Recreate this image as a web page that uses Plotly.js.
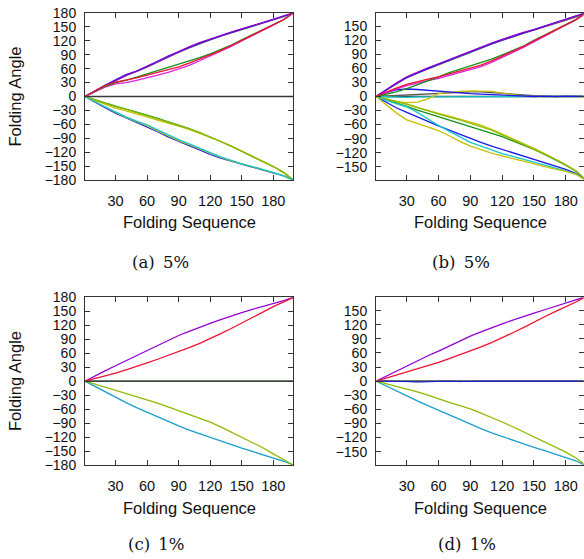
<!DOCTYPE html>
<html>
<head>
<meta charset="utf-8">
<script src="https://cdn.plot.ly/plotly-3.0.1.min.js"></script>
<style>html,body{margin:0;padding:0;background:#fff;}#chart{width:584px;height:559px;}</style>
</head>
<body>
<div id="chart"></div>
<script>
// Folding sequence sample points
const X = [1,10,20,30,40,50,60,70,80,90,100,110,120,130,140,150,160,170,180,190,199];
const zeroLine = [0,0,0,0,0,0,0,0,0,0,0,0,0,0,0,0,0,0,0,0,0];

// Panel (a) 5%
const aGray    = [0,11,22,34,45,54,63,74,85,95,105,114,122,130,137,144,151,158,165,172,180];
const aBlue    = [0,12,24,36,47,55,65,76,87,97,106,115,123,131,138,145,152,158,165,172,180];
const aPurple  = [0,11,23,35,46,54,64,75,86,97,107,116,124,132,139,146,152,159,166,173,180];
const aMagenta = [0,10,20,27,30,35,40,46,52,59,67,77,87,97,108,120,131,142,154,166,180];
const aGreen   = [0,11,22,30,35,42,49,56,62,69,76,84,92,101,111,122,133,143,154,166,180];
const aRed     = [0,12,24,31,35,40,46,52,58,64,72,81,90,99,110,121,132,143,154,166,180];
const aGreenL  = [0,-7,-14,-21,-27,-33,-40,-47,-54,-61,-69,-78,-87,-97,-107,-118,-129,-140,-151,-164,-180];
const aOliveL  = [0,-8,-17,-25,-31,-37,-44,-51,-57,-64,-71,-79,-88,-97,-107,-118,-129,-140,-151,-164,-180];
const aYGreenL = [0,-7,-15,-22,-28,-34,-41,-48,-55,-62,-70,-78,-87,-97,-107,-118,-129,-140,-151,-164,-180];
const aBlueL   = [0,-12,-24,-36,-46,-56,-65,-76,-87,-97,-106,-115,-125,-133,-140,-146,-152,-158,-164,-171,-180];
const aYellowL = [0,-11,-23,-34,-45,-54,-63,-74,-85,-95,-104,-113,-123,-131,-139,-145,-151,-158,-164,-171,-180];
const aCyanL   = [0,-11,-22,-33,-44,-53,-61,-72,-83,-93,-102,-112,-121,-130,-138,-145,-151,-157,-164,-171,-180];

// Panel (b) 5%
const bGray    = [0,13,27,40,50,59,68,77,86,95,104,112,120,128,135,142,149,156,163,170,179];
const bBlue    = [0,14,28,41,51,60,69,78,87,96,105,113,121,129,136,143,150,157,164,171,179];
const bPurple  = [0,14,28,42,52,61,70,79,88,97,106,114,122,130,137,143,150,157,164,171,179];
const bMagenta = [0,8,16,23,29,34,39,45,51,57,64,73,83,94,105,117,129,141,153,165,179];
const bGreen   = [0,4,10,17,25,33,42,51,58,65,72,80,89,98,108,120,131,142,153,165,179];
const bRed     = [0,9,18,26,32,37,42,48,54,60,67,76,86,96,107,119,131,142,153,165,179];
const bBlueZ   = [0,8,14,16,15,13,11,9,7,6,5,4,3,2,1,0,1,0,1,0,0];
const bGrayZ   = [0,1,2,4,5,6,7,8,9,10,10,9,7,5,3,1,0,0,0,0,0];
const bOliveZ  = [0,-6,-11,-13,-12,-5,6,9,11,12,12,11,7,4,1,0,0,0,0,0,0];
const bCyanZ   = [0,-1,-2,-2,-1,-1,0,-1,0,0,0,0,0,0,0,0,0,0,0,0,0];
const bGreenL  = [0,-6,-13,-21,-29,-36,-43,-50,-57,-64,-71,-78,-86,-95,-104,-113,-124,-135,-147,-160,-179];
const bOliveL  = [0,-5,-10,-16,-23,-30,-36,-42,-48,-54,-61,-70,-80,-90,-100,-111,-122,-134,-146,-160,-179];
const bYGreenL = [0,-5,-11,-17,-24,-31,-37,-44,-50,-57,-64,-72,-82,-92,-102,-112,-123,-134,-146,-160,-179];
const bBlueL   = [0,-12,-24,-34,-44,-54,-63,-72,-81,-90,-98,-106,-113,-120,-127,-134,-142,-149,-156,-165,-179];
const bCyanL   = [0,-8,-15,-22,-34,-48,-62,-74,-86,-98,-106,-114,-122,-128,-134,-141,-147,-153,-159,-166,-179];
const bYellowL = [0,-17,-35,-50,-58,-66,-73,-84,-96,-106,-114,-121,-127,-132,-138,-144,-150,-155,-160,-167,-179];

// Panel (c) 1%
const cPurple  = [0,11,22,33,44,55,66,77,88,98,107,116,124,132,140,147,154,160,167,173,180];
const cRed     = [0,5,11,17,24,31,39,47,55,63,72,81,91,102,113,125,137,149,160,170,180];
const cTeal    = [0,-11,-23,-35,-46,-57,-67,-77,-87,-96,-105,-113,-121,-129,-137,-144,-151,-158,-165,-172,-180];
const cOlive   = [0,-6,-13,-20,-27,-33,-40,-47,-55,-63,-71,-79,-88,-98,-109,-120,-131,-143,-156,-168,-180];

// Panel (d) 1%
const dPurple  = [0,10,21,33,44,54,64,75,86,96,105,114,122,130,138,145,152,159,165,172,180];
const dRed     = [0,6,12,19,25,32,40,48,56,65,73,82,92,103,114,126,137,148,158,169,180];
const dTeal    = [0,-10,-21,-31,-42,-52,-62,-72,-82,-92,-101,-110,-118,-126,-134,-141,-148,-155,-162,-170,-180];
const dOlive   = [0,-5,-11,-16,-23,-30,-38,-45,-52,-59,-68,-77,-87,-97,-108,-119,-129,-140,-151,-164,-180];
const dBlueZ   = [0,0,-1,-1,-2,-1,0,0,-1,0,0,0,0,0,0,0,0,0,0,0,0];

const xTicks = [30,60,90,120,150,180];
const yTicksFull = [-180,-150,-120,-90,-60,-30,0,30,60,90,120,150,180];
const yTicksInner = [-150,-120,-90,-60,-30,0,30,60,90,120,150];

const C = {
  purple:'#9400d3', blue:'#1a1aee', gray:'#5a5a5a', red:'#ee1133', green:'#15921a',
  magenta:'#e020e0', cyan:'#12c8c8', yellow:'#c8c000', ygreen:'#8cbc00', teal:'#1a9fcf',
  zero:'#3a3a3a', zeroC:'#3c4a3c'
};

const traces = [];
function add(y, color, sp, w) {
  const n = sp === 1 ? '' : String(sp);
  traces.push({x: X, y: y, type:'scatter', mode:'lines', xaxis:'x'+n, yaxis:'y'+n,
    line:{color: color, width: w || 1.3}, hoverinfo:'skip', showlegend:false});
}
// (a)
add(zeroLine, C.zero, 1, 1.5);
add(aGray, C.gray, 1); add(aBlue, C.blue, 1); add(aPurple, C.purple, 1);
add(aMagenta, C.magenta, 1); add(aGreen, C.green, 1); add(aRed, C.red, 1);
add(aGreenL, C.green, 1); add(aOliveL, C.yellow, 1); add(aYGreenL, C.ygreen, 1);
add(aBlueL, C.blue, 1); add(aYellowL, C.yellow, 1); add(aCyanL, C.cyan, 1);
// (b)
add(zeroLine, C.zero, 2, 1.5);
add(bGrayZ, C.gray, 2); add(bCyanZ, C.cyan, 2); add(bOliveZ, C.yellow, 2); add(bBlueZ, C.blue, 2);
add(bGray, C.gray, 2); add(bBlue, C.blue, 2); add(bPurple, C.purple, 2);
add(bMagenta, C.magenta, 2); add(bGreen, C.green, 2); add(bRed, C.red, 2);
add(bGreenL, C.green, 2); add(bOliveL, C.yellow, 2); add(bYGreenL, C.ygreen, 2);
add(bBlueL, C.blue, 2); add(bCyanL, C.cyan, 2); add(bYellowL, C.yellow, 2);
// (c)
add(zeroLine, C.zeroC, 3, 1.6);
add(cPurple, C.purple, 3); add(cRed, C.red, 3); add(cTeal, C.teal, 3); add(cOlive, C.ygreen, 3);
// (d)
add(zeroLine, C.zeroC, 4, 1.6);
add(dBlueZ, C.blue, 4, 1);
add(dPurple, C.purple, 4); add(dRed, C.red, 4); add(dTeal, C.teal, 4); add(dOlive, C.ygreen, 4);

const W = 584, H = 559;
const FONT = 'Liberation Sans, Arial, Helvetica, sans-serif';
function xd(l, r) { return [l / W, r / W]; }
function yd(t, b) { return [1 - b / H, 1 - t / H]; }
function xAxis(dom, anchor, range) {
  return {domain: dom, anchor: anchor, range: range, tickvals: xTicks, ticks:'inside', ticklen:5,
    tickcolor:'#333', showline:true, mirror:'ticks', linecolor:'#333', linewidth:1,
    showgrid:false, zeroline:false, ticklabelstandoff:8,
    tickfont:{family:FONT, size:14.5, color:'#111'}};
}
function yAxis(dom, anchor, range, tv) {
  return {domain: dom, anchor: anchor, range: range, tickvals: tv, ticks:'inside', ticklen:5,
    tickcolor:'#333', showline:true, mirror:'ticks', linecolor:'#333', linewidth:1,
    showgrid:false, zeroline:false, ticklabelstandoff:5,
    tickfont:{family:FONT, size:14, color:'#111'}};
}
const dA = xd(85, 293.3), dB = xd(376, 583.5);
const rTop = yd(13, 180), rBot = yd(297.3, 465);

const ann = [];
function note(text, xpx, ypx, size, family, angle) {
  ann.push({text: text, xref:'paper', yref:'paper', x: xpx / W, y: 1 - ypx / H,
    xanchor:'center', yanchor:'middle', showarrow:false, textangle: angle || 0,
    font:{family: family, size: size, color:'#111'}});
}
note('Folding Angle', 15, 96.5, 16.5, FONT, -90);
note('Folding Angle', 15, 381, 16.5, FONT, -90);
note('Folding Sequence', 189, 222, 16.5, FONT);
note('Folding Sequence', 480, 222, 16.5, FONT);
note('Folding Sequence', 189, 508, 16.5, FONT);
note('Folding Sequence', 480, 508, 16.5, FONT);
const SERIF = 'DejaVu Serif, Liberation Serif, serif';
note('(a)\u20025%', 160, 262, 16.5, SERIF);
note('(b)\u20025%', 461, 262, 16.5, SERIF);
note('(c)\u20021%', 156, 544, 16.5, SERIF);
note('(d)\u20021%', 467, 544, 16.5, SERIF);

const layout = {
  width: W, height: H, margin:{l:0, r:0, t:0, b:0}, paper_bgcolor:'#fff', plot_bgcolor:'#fff',
  showlegend:false,
  xaxis:  xAxis(dA, 'y',  [1, 199]),
  yaxis:  yAxis(rTop, 'x',  [-180, 180], yTicksFull),
  xaxis2: xAxis(dB, 'y2', [1, 196.7]),
  yaxis2: yAxis(rTop, 'x2', [-178.5, 178.5], yTicksInner),
  xaxis3: xAxis(dA, 'y3', [1, 199]),
  yaxis3: yAxis(rBot, 'x3', [-180, 180], yTicksFull),
  xaxis4: xAxis(dB, 'y4', [1, 196.7]),
  yaxis4: yAxis(rBot, 'x4', [-178.5, 178.5], yTicksInner),
  annotations: ann
};
Plotly.newPlot('chart', traces, layout, {staticPlot:true, displayModeBar:false});
</script>
</body>
</html>
